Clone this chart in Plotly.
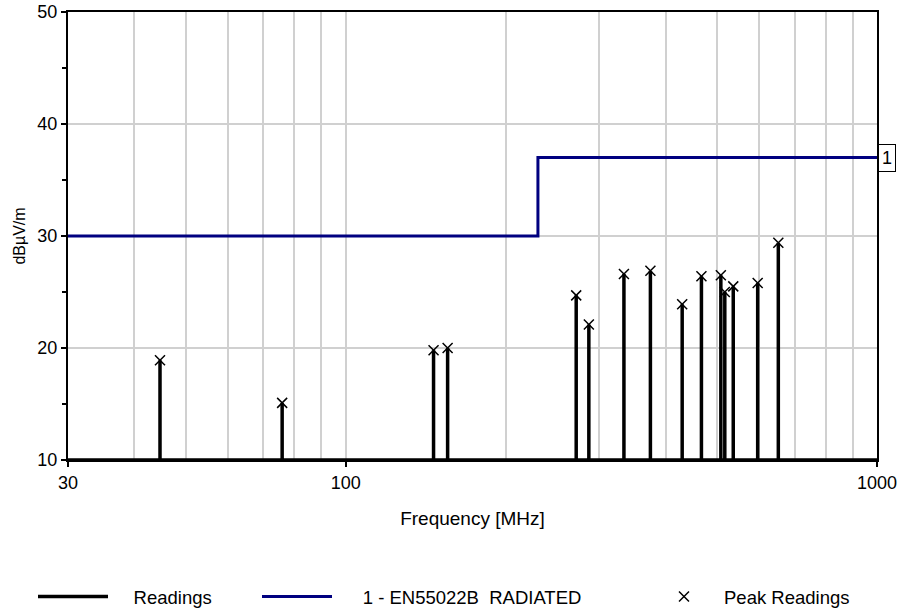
import math
import plotly.graph_objects as go

# ---- data ----
peak_freq = [44.7, 75.9, 146.3, 155.5, 271.5, 286.8, 333.9, 374.5, 429.8,
             467.2, 508.2, 517.0, 536.3, 596.2, 652.0]
peak_level = [18.9, 15.1, 19.8, 20.0, 24.7, 22.1, 26.6, 26.9, 23.9,
              26.4, 26.5, 25.0, 25.5, 25.8, 29.4]
limit_freq = [30, 230, 230, 1000]
limit_level = [30, 30, 37, 37]
floor_level = 10
x_range = [30, 1000]
y_range = [10, 50]
x_grid = [30, 40, 50, 60, 70, 80, 90, 100, 200, 300, 400, 500, 600, 700, 800, 900, 1000]
x_major = [30, 100, 1000]
x_major_text = ["30", "100", "1000"]
series_names = ["Readings", "1 - EN55022B  RADIATED", "Peak Readings"]

FONT = "Liberation Sans, Arial, sans-serif"
NB = "\u00a0"

# readings trace: baseline with stems up to each peak
rx = [x_range[0]]
ry = [floor_level]
for f, v in zip(peak_freq, peak_level):
    rx += [f, f, f]
    ry += [floor_level, v, floor_level]
rx.append(x_range[1])
ry.append(floor_level)

fig = go.Figure()
fig.add_trace(go.Scatter(x=rx, y=ry, mode="lines", name=NB * 4 + series_names[0],
                         line=dict(color="black", width=3.5), legend="legend",
                         showlegend=True))
fig.add_trace(go.Scatter(x=limit_freq, y=limit_level, mode="lines",
                         name=NB * 5 + series_names[1],
                         line=dict(color="#000080", width=3), legend="legend2",
                         showlegend=True))
fig.add_trace(go.Scatter(x=peak_freq, y=peak_level, mode="markers", name=series_names[2],
                         marker=dict(symbol="x-thin-open", size=10, color="black",
                                     line=dict(color="black", width=1.5)),
                         legend="legend3", cliponaxis=False, showlegend=True))

leg_common = dict(xref="container", yref="container", y=1 - 597 / 608,
                  xanchor="left", yanchor="middle", orientation="h", itemwidth=70,
                  font=dict(size=18.5), bgcolor="rgba(0,0,0,0)")

fig.update_layout(
    width=898, height=608,
    showlegend=True,
    margin=dict(l=68, r=21, t=12, b=148),
    paper_bgcolor="white", plot_bgcolor="white",
    font=dict(family=FONT, size=18, color="black"),
    xaxis=dict(type="log", range=[math.log10(x_range[0]), math.log10(x_range[1])],
               tickvals=x_major, ticktext=x_major_text, tickangle=0,
               ticks="outside", ticklen=5, tickwidth=2, tickcolor="black",
               showgrid=False,
               minor=dict(tickvals=x_grid, showgrid=True, gridcolor="#d0d0d0",
                          gridwidth=1.5, ticks=""),
               showline=True, linecolor="black", linewidth=2, mirror=True,
               title=dict(text="Frequency [MHz]", font=dict(size=19), standoff=20),
               tickfont=dict(size=18), zeroline=False, automargin=False),
    yaxis=dict(range=y_range, dtick=10, tick0=10,
               ticks="outside", ticklen=5, tickwidth=2, tickcolor="black",
               showgrid=True, gridcolor="#d0d0d0", gridwidth=1.5,
               minor=dict(dtick=5, ticks="outside", ticklen=4, tickwidth=2,
                          tickcolor="black", showgrid=False),
               showline=True, linecolor="black", linewidth=2, mirror=True,
               title=dict(text="dBµV/m", font=dict(size=16), standoff=8),
               tickfont=dict(size=18), zeroline=False, automargin=False),
    legend=dict(x=33 / 898, **leg_common),
    legend2=dict(x=257 / 898, **leg_common),
    legend3=dict(x=644 / 898, **leg_common),
    annotations=[dict(x=1, xref="paper", y=limit_level[-1], yref="y",
                      text="1", showarrow=False, xanchor="left", xshift=1,
                      bordercolor="black", borderwidth=1, borderpad=3,
                      bgcolor="white", font=dict(size=18))],
)

fig.write_html("out.html")
